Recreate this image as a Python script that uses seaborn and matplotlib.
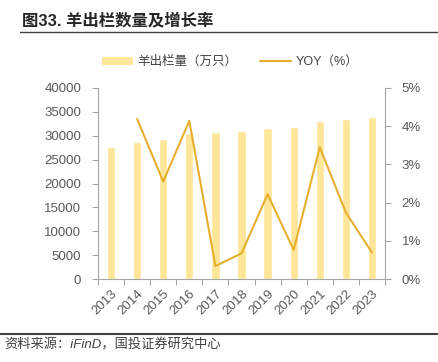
import matplotlib
matplotlib.use("Agg")
import matplotlib.pyplot as plt
import seaborn as sns
import pandas as pd
import numpy as np
from matplotlib.lines import Line2D
from matplotlib.patches import Patch
from matplotlib.ticker import FuncFormatter, MultipleLocator

years = ["2013", "2014", "2015", "2016", "2017", "2018", "2019", "2020", "2021", "2022", "2023"]
slaughter = [27600, 28700, 29400, 30600, 30800, 31000, 31600, 31900, 33100, 33600, 33900]
yoy_years = ["2014", "2015", "2016", "2017", "2018", "2019", "2020", "2021", "2022", "2023"]
yoy = [4.19, 2.55, 4.14, 0.34, 0.67, 2.22, 0.76, 3.45, 1.74, 0.69]

title = "图33. 羊出栏数量及增长率"
bar_label = "羊出栏量（万只）"
line_label = "YOY（%）"
source = "资料来源：iFinD，国投证券研究中心"

sns.set_theme(style="white")
plt.rcParams["font.family"] = ["Liberation Sans", "Noto Sans CJK SC", "DejaVu Sans"]

bar_color = "#FFE699"
line_color = "#E6AF2E"
grey = "#595959"
spine_c = "#A6A6A6"

fig = plt.figure(figsize=(4.38, 3.62), dpi=100)
ax = fig.add_axes([98/438, 1 - 279/362, (385-98)/438, (279-88)/362])

df = pd.DataFrame({"year": years, "value": slaughter})
sns.barplot(data=df, x="year", y="value", color=bar_color, width=0.32, ax=ax, saturation=1)
ax.set_xlim(-0.5, len(years) - 0.5)
ax.set_ylim(0, 40000)
ax.yaxis.set_major_locator(MultipleLocator(5000))
ax.set_xlabel("")
ax.set_ylabel("")

ax2 = ax.twinx()
xpos = [years.index(y) for y in yoy_years]
dfl = pd.DataFrame({"x": xpos, "yoy": yoy})
sns.lineplot(data=dfl, x="x", y="yoy", color=line_color, lw=1.5, ax=ax2)
ax2.set_ylim(0, 5)
ax2.yaxis.set_major_locator(MultipleLocator(1))
ax2.yaxis.set_major_formatter(FuncFormatter(lambda v, p: f"{int(round(v))}%"))
ax2.set_xlabel("")
ax2.set_ylabel("")
ax2.set_xlim(-0.5, len(years) - 0.5)

for a in (ax, ax2):
    for s in a.spines.values():
        s.set_color(spine_c)
        s.set_linewidth(0.8)
    a.spines["top"].set_visible(False)
    a.grid(False)

ax.spines["right"].set_visible(False)
ax2.spines["left"].set_visible(False)
ax2.spines["bottom"].set_visible(False)

ax.set_xticks(range(len(years)))
ax.set_xticklabels(years, rotation=45, ha="right", rotation_mode="anchor", fontsize=9.5, color=grey)
ax.set_xticks(np.arange(-0.5, len(years), 1), minor=True)
ax.tick_params(axis="x", which="major", length=0, pad=6)
ax.tick_params(axis="x", which="minor", length=4, color=spine_c, width=0.8, direction="out", bottom=True)
ax.tick_params(axis="y", length=4, color=spine_c, width=0.8, direction="out", left=True, labelsize=9.5, labelcolor=grey, pad=8)
ax2.tick_params(axis="y", length=4, color=spine_c, width=0.8, direction="out", right=True, labelsize=9.5, labelcolor=grey, pad=8)

# Title and rules
fig.text(22/438, 1 - 20/362, title, fontsize=11.8, fontweight="bold", color="#262626", va="center", ha="left")
fig.add_artist(Line2D([20/438, 1], [1 - 32/362] * 2, color="#404040", lw=1.0))
fig.add_artist(Line2D([0, 1], [1 - 334/362] * 2, color="#404040", lw=1.5))
fig.text(4/438, 1 - 345/362, source, fontsize=9.5, style="italic", color="#404040", va="center", ha="left")

handles = [Patch(facecolor=bar_color, edgecolor="none"), Line2D([0], [0], color=line_color, lw=1.5)]
fig.legend(handles, [bar_label, line_label], loc="center", bbox_to_anchor=(230/438, 1 - 62/362),
           ncol=2, frameon=False, fontsize=9.0, handlelength=2.5, handleheight=0.6,
           columnspacing=1.8, handletextpad=0.35, labelcolor="#404040")

fig.savefig("out.png", dpi=100)
